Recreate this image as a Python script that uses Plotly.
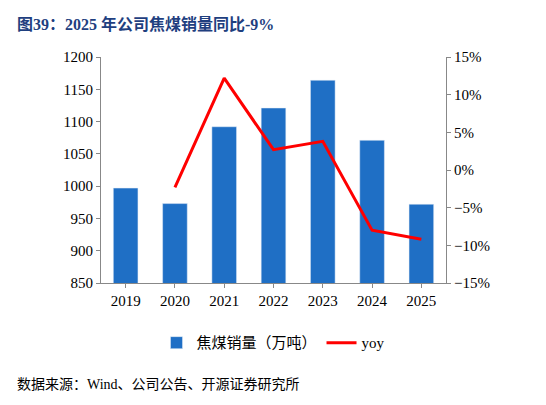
import plotly.graph_objects as go

years = ["2019", "2020", "2021", "2022", "2023", "2024", "2025"]
sales = [997, 973, 1092, 1121, 1164, 1071, 972]
yoy_years = ["2020", "2021", "2022", "2023", "2024", "2025"]
yoy = [-2.3, 12.2, 2.7, 3.8, -8.0, -9.2]

font_cn = "Noto Sans CJK SC"
fig = go.Figure()
fig.add_bar(x=years, y=sales, name="焦煤销量（万吨）", marker_color="#1F6FC5", width=0.5)
fig.add_scatter(x=yoy_years, y=yoy, name="yoy", yaxis="y2", mode="lines",
                line=dict(color="#FF0000", width=3))
fig.update_layout(
    width=546, height=405, plot_bgcolor="white", paper_bgcolor="white",
    margin=dict(l=93, r=108, t=49, b=130),
    font=dict(family="Times New Roman, Liberation Serif, " + font_cn, size=15, color="black"),
    xaxis=dict(showline=True, linecolor="#888", ticks="outside", ticklen=4, tickcolor="#888"),
    yaxis=dict(range=[850, 1200], dtick=50, showline=True, linecolor="#888", showgrid=False,
               ticks="outside", ticklen=4, tickcolor="#888"),
    yaxis2=dict(range=[-15, 15], dtick=5, overlaying="y", side="right", ticksuffix="%",
                showline=True, linecolor="#888", showgrid=False, zeroline=False,
                ticks="outside", ticklen=4, tickcolor="#888"),
    showlegend=True,
    legend=dict(orientation="h", x=0.5, xanchor="center", y=-0.265, yanchor="middle",
                font=dict(size=15, family="Times New Roman, Liberation Serif, " + font_cn)),
    bargap=0.5,
)
fig.add_annotation(text="<b>图39：2025 年公司焦煤销量同比-9%</b>", xref="paper", yref="paper",
                   x=-0.25, y=1.145, xanchor="left", yanchor="middle", showarrow=False,
                   font=dict(size=16, color="#1F3F7F", family="Liberation Serif, " + font_cn))
fig.add_annotation(text="数据来源：Wind、公司公告、开源证券研究所", xref="paper", yref="paper",
                   x=-0.25, y=-0.45, xanchor="left", yanchor="middle", showarrow=False,
                   font=dict(size=14, family="Liberation Serif, " + font_cn))
fig.write_html("out.html")
